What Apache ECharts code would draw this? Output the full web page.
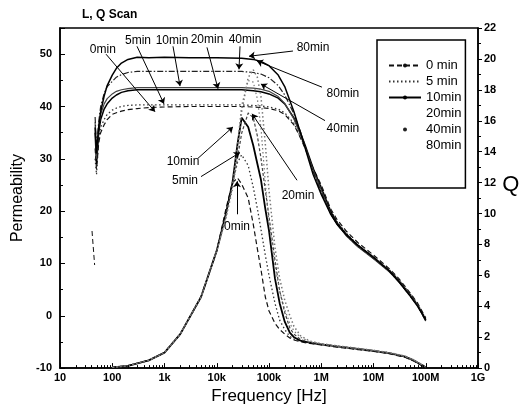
<!DOCTYPE html>
<html>
<head>
<meta charset="utf-8">
<script src="https://cdn.jsdelivr.net/npm/echarts@6/dist/echarts.min.js"></script>
<style>
html, body { margin: 0; padding: 0; background: #fff; }
#chart { width: 527px; height: 410px; }
</style>
</head>
<body>
<div id="chart"></div>
<script>
var FONT = 'Arial, "Liberation Sans", sans-serif';

// series names (legend order)
var names = ['0 min', '5 min', '10min', '20min', '40min', '80min'];

// x tick labels, one per decade from 10 to 1G
var xTickLabels = ['10', '100', '1k', '10k', '100k', '1M', '10M', '100M', '1G'];

// permeability curves (left axis)
var pFreq = [47, 50, 55, 60, 70, 80, 100, 120, 150, 200, 300, 500, 1e3, 3e3, 1e4, 3e4, 5e4, 7e4, 1e5, 1.5e5,
             2e5, 3e5, 4e5, 5e5, 7e5, 1e6, 1.5e6, 2e6, 3e6, 5e6, 1e7, 2e7, 3e7, 5e7, 7e7, 1e8];
var p0min  = [32, 28, 33, 35, 36.5, 37.5, 38.5, 38.8, 39.1, 39.4, 39.6, 39.8, 39.9, 40.0, 40.0, 40.0, 39.9, 39.8, 39.6, 39.2,
              38.5, 36.5, 34.0, 31.8, 28.2, 25.0, 20.5, 18.4, 16.2, 14.0, 11.6, 9.0, 7.2, 4.4, 2.4, -0.4];
var p5min  = [30, 27, 34, 36, 37.5, 38.5, 39.3, 39.7, 40.0, 40.2, 40.3, 40.3, 40.3, 40.3, 40.3, 40.3, 40.2, 40.1, 39.9, 39.5,
              38.8, 36.8, 34.2, 32.0, 28.0, 24.6, 20.2, 18.0, 15.8, 13.6, 11.2, 8.8, 7.0, 4.2, 2.2, -0.6];
var p10min = [35, 29, 35, 37.5, 39.5, 40.5, 41.6, 42.2, 42.7, 43.0, 43.2, 43.2, 43.2, 43.2, 43.2, 43.2, 43.0, 42.8, 42.4, 41.6,
              40.5, 37.8, 35.0, 32.4, 28.2, 24.4, 20.0, 17.8, 15.6, 13.4, 11.0, 8.6, 6.8, 4.0, 2.0, -0.8];
var p20min = [37, 30, 36, 38.5, 40.5, 41.5, 42.4, 42.9, 43.2, 43.4, 43.6, 43.6, 43.6, 43.6, 43.6, 43.6, 43.5, 43.3, 42.9, 41.9,
              40.6, 37.6, 34.6, 32.0, 27.8, 24.0, 19.6, 17.5, 15.3, 13.2, 10.9, 8.4, 6.6, 3.9, 2.0, -1.0];
var p40min = [38, 32, 37, 40, 42.5, 43.8, 44.8, 45.6, 46.1, 46.5, 46.7, 46.7, 46.7, 46.7, 46.7, 46.7, 46.5, 46.2, 45.5, 44.0,
              42.2, 38.6, 35.2, 32.2, 27.6, 23.6, 19.6, 17.5, 15.4, 13.3, 11.0, 8.5, 6.6, 3.8, 1.9, -1.0];
var p80min = [36, 31, 36, 39, 42, 44, 46, 47.3, 48.3, 49.0, 49.4, 49.3, 49.4, 49.3, 49.3, 49.2, 49.0, 48.6, 47.8, 46.0,
              43.8, 39.0, 35.0, 31.8, 27.0, 23.2, 19.5, 17.5, 15.5, 13.5, 11.2, 8.6, 6.6, 3.8, 1.8, -0.8];
// short stray trace near 45 Hz
var spikeFreq = [41, 46];
var spikeVal = [16.2, 9.7];

// Q curves (right axis)
var qFreq = [100, 200, 500, 1e3, 2e3, 5e3, 1e4, 1.5e4, 2e4, 2.5e4, 3e4, 4e4, 5e4, 6e4, 7e4, 8.5e4, 1e5, 1.3e5,
             1.6e5, 2e5, 2.5e5, 3e5, 4e5, 6e5, 1e6, 2e6, 5e6, 1e7, 2e7, 4e7, 6e7, 8e7, 1e8];
var q0min  = [0.05, 0.15, 0.5, 1.0, 2.2, 4.6, 7.6, 10.3, 12.0, 12.3, 11.9, 11.0, 9.3, 7.7, 6.4, 4.6, 3.7, 2.9,
              2.5, 2.2, 1.95, 1.82, 1.7, 1.6, 1.5, 1.36, 1.2, 1.08, 0.93, 0.7, 0.45, 0.2, 0.03];
var q5min  = [0.05, 0.16, 0.5, 1.0, 2.2, 4.6, 7.6, 10.1, 12.0, 13.3, 13.8, 13.1, 11.7, 10.3, 9.0, 7.3, 6.0, 4.2,
              3.1, 2.5, 2.05, 1.88, 1.74, 1.63, 1.52, 1.38, 1.22, 1.1, 0.95, 0.72, 0.46, 0.22, 0.05];
var q10min = [0.05, 0.15, 0.5, 1.0, 2.2, 4.6, 7.6, 10.0, 12.0, 14.5, 16.2, 15.6, 14.4, 13.2, 12.2, 10.3, 8.9, 5.8,
              4.2, 3.0, 2.3, 2.0, 1.78, 1.64, 1.53, 1.4, 1.24, 1.12, 0.97, 0.74, 0.48, 0.24, 0.06];
var q20min = [0.05, 0.15, 0.5, 1.0, 2.2, 4.6, 7.6, 9.9, 11.8, 13.6, 15.2, 16.5, 16.2, 15.0, 13.6, 11.5, 9.8, 7.0,
              5.0, 3.6, 2.6, 2.2, 1.85, 1.66, 1.55, 1.41, 1.25, 1.13, 0.98, 0.75, 0.5, 0.25, 0.06];
var q40min = [0.05, 0.15, 0.5, 1.0, 2.2, 4.6, 7.6, 9.8, 11.8, 14.5, 17.0, 18.6, 18.5, 17.4, 15.6, 12.0, 9.4, 6.6,
              5.0, 3.8, 2.9, 2.4, 2.0, 1.7, 1.56, 1.42, 1.26, 1.14, 0.99, 0.76, 0.5, 0.26, 0.07];
var q80min = [0.05, 0.15, 0.5, 1.0, 2.2, 4.6, 7.6, 9.7, 11.6, 14.0, 16.6, 18.8, 19.3, 18.8, 17.6, 14.5, 11.5, 7.8,
              5.8, 4.4, 3.4, 2.7, 2.1, 1.75, 1.58, 1.44, 1.28, 1.15, 1.0, 0.78, 0.52, 0.27, 0.08];

// annotations: label, label centre, arrow start, arrow tip (freq, permeability)
var annoText = ['0min', '5min', '10min', '20min', '40min', '80min', '80min', '40min', '20min', '10min', '5min', '0min'];
var annoPos  = [[66, 50.9], [311, 52.5], [1393, 52.5], [6500, 52.8], [34750, 52.8], [695000, 51.3],
                [2.6e6, 42.4], [2.6e6, 35.8], [359000, 23.0], [2260, 29.5], [2466, 25.9], [24430, 17.0]];
var annoFrom = [[76, 50.0], [298, 51.5], [1455, 51.5], [6500, 51.3], [27860, 51.5], [287500, 50.6],
                [1.03e6, 43.7], [1.18e6, 37.3], [343600, 25.9], [4375, 30.1], [5000, 26.6], [24430, 19.4]];
var annoTo   = [[658, 39.0], [977, 40.5], [1982, 43.9], [10570, 43.4], [26670, 47.1], [41400, 49.6],
                [58900, 48.7], [70000, 44.3], [47300, 38.6], [20470, 36.1], [27860, 31.2], [24430, 25.7]];

var permSets = [p0min, p5min, p10min, p20min, p40min, p80min];
var qSets = [q0min, q5min, q10min, q20min, q40min, q80min];
var lineTypes = [[5, 3], [1.5, 2.5], 'solid', 'solid', [6, 2, 1.5, 2], 'solid'];
var lineWidths = [1.2, 1.3, 1.5, 1.2, 1.2, 1.5];
var lineColors = ['#111', '#333', '#000', '#444', '#222', '#000'];
// Q traces of the two longest anneals are faint dotted in the scan
var qTypes = [[5, 3], [1.5, 2.5], 'solid', [3, 2], [1.5, 2.5], [1.5, 2.5]];
var qColors = ['#111', '#333', '#000', '#444', '#777', '#777'];

function pairs(xs, ys) {
	var out = [];
	for (var k = 0; k < xs.length; k++) out.push([xs[k], ys[k]]);
	return out;
}

// log-spaced minor tick positions for the frequency axis
var minorFreq = [];
for (var d = 10; d < 1e9; d *= 10) {
	for (var m = 2; m < 10; m++) minorFreq.push([d * m, -10]);
}

var series = [];
for (var s = 0; s < names.length; s++) {
	series.push({
		name: names[s], type: 'line', yAxisIndex: 0,
		data: pairs(pFreq, permSets[s]),
		symbol: 'circle', symbolSize: 3, showSymbol: false,
		lineStyle: { color: lineColors[s], width: lineWidths[s], type: lineTypes[s] },
		itemStyle: { color: lineColors[s] }
	});
	series.push({
		name: names[s], type: 'line', yAxisIndex: 1,
		data: pairs(qFreq, qSets[s]),
		symbol: 'circle', symbolSize: 3, showSymbol: false,
		lineStyle: { color: qColors[s], width: s == 2 ? 1.8 : lineWidths[s], type: qTypes[s] },
		itemStyle: { color: qColors[s] }
	});
}
series.push({
	name: '0 min', type: 'line', yAxisIndex: 0, symbol: 'none',
	data: pairs(spikeFreq, spikeVal),
	lineStyle: { color: '#111', width: 1, type: [5, 3] }
});
// arrows and labels
series.push({
	type: 'line', yAxisIndex: 0, data: [], silent: true,
	markLine: {
		silent: true, symbol: ['none', 'arrow'], symbolSize: 6, animation: false,
		lineStyle: { color: '#000', width: 1, type: 'solid' },
		label: { show: false },
		data: annoFrom.map(function (a, i) { return [{ coord: a }, { coord: annoTo[i] }]; })
	},
	markPoint: {
		silent: true, symbol: 'circle', symbolSize: 1, animation: false,
		itemStyle: { color: 'rgba(0,0,0,0)' },
		label: { show: true, position: 'inside', formatter: '{b}', color: '#000', fontSize: 12, fontFamily: FONT },
		data: annoText.map(function (t, i) { return { name: t, coord: annoPos[i] }; })
	}
});
// minor ticks on the log axis
series.push({
	type: 'custom', yAxisIndex: 0, silent: true, clip: false, z: 5,
	data: minorFreq,
	renderItem: function (params, api) {
		var p = api.coord([api.value(0), api.value(1)]);
		return {
			type: 'line',
			shape: { x1: Math.round(p[0]) + 0.5, y1: p[1], x2: Math.round(p[0]) + 0.5, y2: p[1] - 3 },
			style: { stroke: '#000', lineWidth: 1 }
		};
	}
});

var hideDot = { opacity: 0 };
var myChart = echarts.init(document.getElementById('chart'));
option = {
	animation: false,
	backgroundColor: '#fff',
	textStyle: { fontFamily: FONT },
	title: {
		text: 'L, Q Scan', left: 77, top: 4,
		textStyle: { fontSize: 12, fontWeight: 'bold', color: '#000', fontFamily: FONT }
	},
	grid: {
		left: 60, right: 49, top: 28, bottom: 40,
		show: true, borderColor: '#000', borderWidth: 1.5
	},
	legend: {
		orient: 'vertical', left: 377, top: 40,
		padding: [19, 4, 36, 11],
		itemWidth: 32, itemHeight: 5, itemGap: 3,
		borderColor: '#000', borderWidth: 1.5,
		textStyle: { fontSize: 13, color: '#000', fontFamily: FONT, lineHeight: 12 },
		data: [
			{ name: '0 min', itemStyle: { opacity: 1 } },
			{ name: '5 min', itemStyle: hideDot },
			{ name: '10min', itemStyle: { opacity: 1 } },
			{ name: '20min', itemStyle: hideDot, lineStyle: { opacity: 0 } },
			{ name: '40min', itemStyle: { opacity: 1 }, lineStyle: { opacity: 0 } },
			{ name: '80min', itemStyle: hideDot, lineStyle: { opacity: 0 } }
		]
	},
	xAxis: {
		type: 'log', logBase: 10, min: 10, max: 1e9,
		name: 'Frequency [Hz]', nameLocation: 'middle', nameGap: 16,
		nameTextStyle: { fontSize: 17, color: '#000', fontFamily: FONT },
		axisLine: { onZero: false, lineStyle: { color: '#000', width: 1.5 } },
		axisTick: { inside: true, length: 5, lineStyle: { color: '#000' } },
		axisLabel: {
			color: '#000', fontSize: 11, fontWeight: 'bold', margin: 4,
			formatter: function (v) { return xTickLabels[Math.round(Math.log10(v)) - 1]; }
		},
		splitLine: { show: false }
	},
	yAxis: [{
		type: 'value', min: -10, max: 55, interval: 10,
		name: 'Permeability', nameLocation: 'middle', nameGap: 19,
		nameTextStyle: { fontSize: 16, color: '#000', fontFamily: FONT },
		axisLine: { show: true, onZero: false, lineStyle: { color: '#000', width: 1.5 } },
		axisTick: { show: true, inside: true, length: 5, lineStyle: { color: '#000' } },
		minorTick: { show: true, splitNumber: 2, length: 3, lineStyle: { color: '#000' } },
		axisLabel: { color: '#000', fontSize: 11, fontWeight: 'bold', margin: 8, showMaxLabel: false },
		splitLine: { show: false }
	}, {
		type: 'value', min: 0, max: 22, interval: 2,
		name: 'Q', nameLocation: 'middle', nameRotate: 0, nameGap: 20,
		nameTextStyle: { fontSize: 22, color: '#000', fontFamily: FONT, verticalAlign: 'bottom', padding: [0, 0, 2, 0] },
		axisLine: { show: true, onZero: false, lineStyle: { color: '#000', width: 1.5 } },
		axisTick: { show: true, inside: false, length: 4, lineStyle: { color: '#000' } },
		minorTick: { show: true, splitNumber: 2, length: 3, lineStyle: { color: '#000' } },
		axisLabel: { color: '#000', fontSize: 11, fontWeight: 'bold', margin: 6 },
		splitLine: { show: false }
	}],
	series: series
};
myChart.setOption(option);
</script>
</body>
</html>
